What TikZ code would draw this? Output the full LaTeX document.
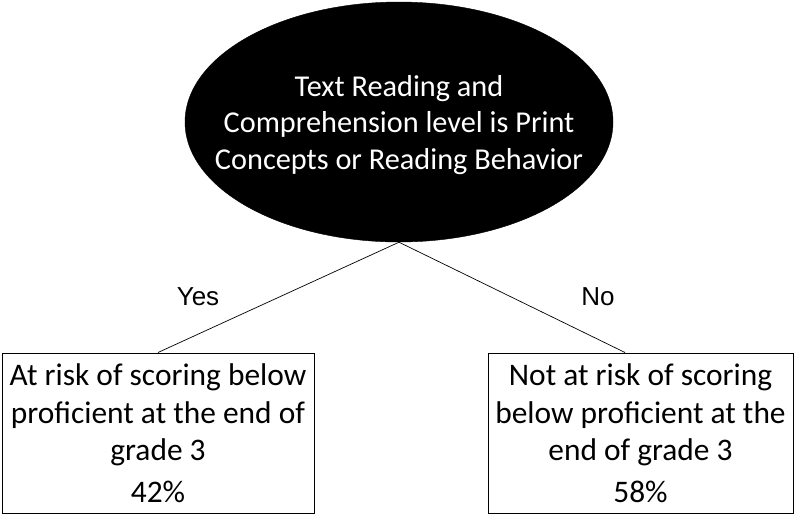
\documentclass[tikz,border=0pt]{standalone}
\usepackage{fontspec}
\setmainfont{Carlito}
\newfontfamily\arialfont{Liberation Sans}
\usetikzlibrary{shapes.geometric}
\begin{document}
\begin{tikzpicture}[x=1pt,y=-1pt,
  decision/.style={ellipse,fill=black,draw=black,minimum width=428pt,minimum height=240pt,inner sep=0pt},
  dtext/.style={text=white,align=center,inner sep=0pt,font=\fontsize{30.3}{36.8}\selectfont},
  outcome/.style={rectangle,draw=black,line width=1pt,minimum height=160pt,inner sep=0pt,align=center,font=\fontsize{31.4}{37.5}\selectfont},
  branch/.style={draw=black,line width=0.7pt},
  blabel/.style={font=\arialfont\fontsize{26}{30}\selectfont}]
\useasboundingbox (0,0) rectangle (794,515);
\node[decision] (q) at (399,122) {};
\node[dtext] (qt) at ([yshift=-3pt]q.center) {Text Reading and\\Comprehension level is Print\\Concepts or Reading Behavior};
\node[outcome,minimum width=312pt] (l) at (158,433) {At risk of scoring below\\proficient at the end of\\grade 3\\[4pt]42\%};
\node[outcome,minimum width=305pt] (r) at (640.5,433) {Not at risk of scoring\\below proficient at the\\end of grade 3\\[4pt]58\%};
\coordinate (rt) at ([xshift=-15.5pt]r.north);
\draw[branch] (q.south) -- (l.north);
\draw[branch] (q.south) -- (rt);
\node[blabel] (yes) at (198,297) {Yes};
\node[blabel] (no) at (598,297) {No};
\end{tikzpicture}
\end{document}
